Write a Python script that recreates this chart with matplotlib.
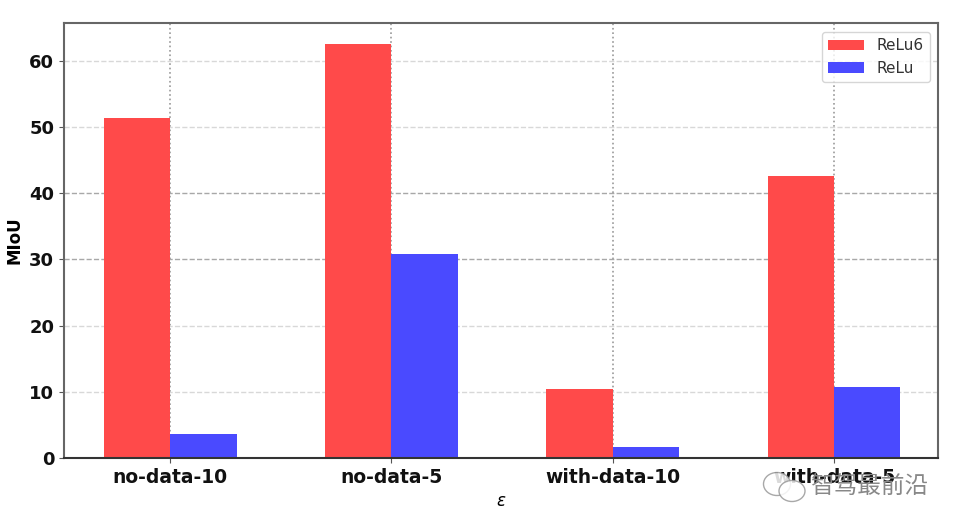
import matplotlib
matplotlib.use('Agg')
import matplotlib.pyplot as plt
from matplotlib.patches import Ellipse
import numpy as np

names = ['no-data-10', 'no-data-5', 'with-data-10', 'with-data-5']
relu6 = [51.4, 62.5, 10.4, 42.6]
relu = [3.7, 30.8, 1.6, 10.7]

plt.rcParams['font.family'] = ['DejaVu Sans', 'Noto Sans CJK SC']

fig = plt.figure(figsize=(9.6, 5.28), dpi=100)
ax = fig.add_axes([64 / 960, 1 - 458 / 528, (938 - 64) / 960, (458 - 23) / 528])

xPos = np.arange(len(names))
width = 0.3
ax.bar(xPos - width / 2, relu6, width, color='#ff4a4a', label='ReLu6', zorder=2)
ax.bar(xPos + width / 2, relu, width, color='#4a4aff', label='ReLu', zorder=2)

ax.set_xticks(xPos)
ax.set_xticklabels(names, fontweight='bold', fontsize=13.5, color='#111111')
ax.set_xlim(-0.48, 3.47)
ax.set_ylim(0, 65.7)
ax.set_yticks([0, 10, 20, 30, 40, 50, 60])
ax.tick_params(axis='y', labelsize=13, color='#555555')
ax.tick_params(axis='x', color='#555555')
for t in ax.get_yticklabels():
    t.set_fontweight('bold')
    t.set_color('#111111')
ax.set_xlabel(r'$\epsilon$', fontweight='bold', fontsize=12)
ax.set_ylabel('MIoU', fontweight='bold', fontsize=12)

# vertical lines dotted, horizontal ones faint dashes
ax.xaxis.grid(True, linestyle=':', color='#999999', linewidth=1.2, zorder=0)
ax.yaxis.grid(True, linestyle='--', color='#d8d8d8', linewidth=1, zorder=0)
# the 30 and 40 lines come out darker in the picture
for i in [3, 4]:
    ax.get_ygridlines()[i].set_color('#a8a8a8')
ax.set_axisbelow(True)
for s in ax.spines.values():
    s.set_color('#666666')
    s.set_linewidth(1.5)
ax.spines['bottom'].set_color('#333333')

ax.legend(loc='upper right', fontsize=11, handlelength=2.4, facecolor='white',
          bbox_to_anchor=(0.9995, 0.9965), labelcolor='#333333')

# watermark in the corner, bubbles sit on top of the last tick label
for cx, cy, w, h in [(777, 484, 27, 23), (792, 491, 26, 21)]:
    fig.add_artist(Ellipse((cx / 960, 1 - cy / 528), w / 960, h / 528,
                           transform=fig.transFigure, facecolor='white',
                           edgecolor='#999999', linewidth=1, alpha=0.85, zorder=5))
fig.text(810 / 960, 1 - 487 / 528, '智驾最前沿', fontsize=17, color='#888888',
         va='center', ha='left', family=['Noto Sans CJK SC', 'DejaVu Sans'], zorder=6)

fig.savefig('out.png', dpi=100)
